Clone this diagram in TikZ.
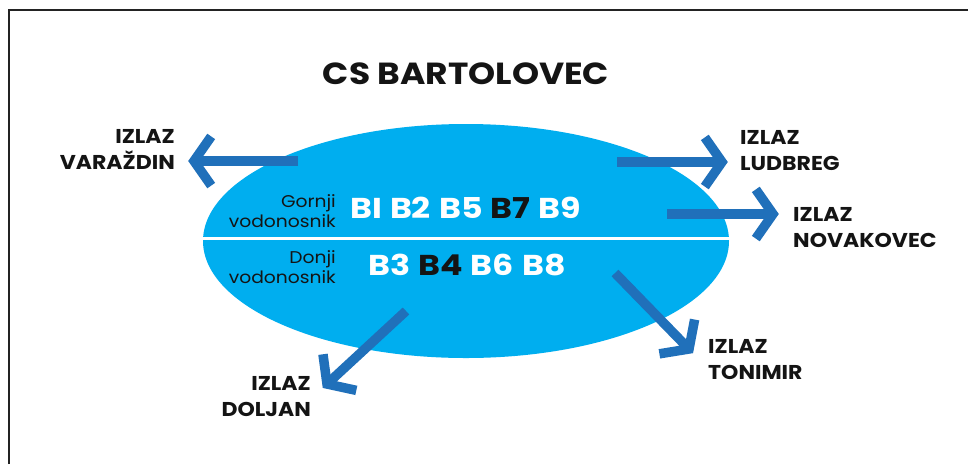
\documentclass[tikz,border=0pt]{standalone}
\usepackage{fontspec}
\setmainfont{Poppins}
\newfontfamily\titlefont[FakeStretch=1.13]{Poppins}
\newfontfamily\labelfont[FakeStretch=1.10]{Poppins}
\newfontfamily\wellfont[FakeStretch=1.16,WordSpace=1.15]{Poppins}
\usetikzlibrary{calc}
\definecolor{lake}{RGB}{0,174,239}
\definecolor{arrowblue}{RGB}{32,112,186}
\definecolor{framegray}{RGB}{35,35,35}
\tikzset{
  lbl/.style={inner sep=0pt, font=\labelfont\fontsize{20}{26}\selectfont\bfseries, text=black!92},
  layer/.style={inner sep=0pt, font=\labelfont\fontsize{17}{20}\selectfont, text=black!92, align=right},
  wells/.style={inner sep=0pt, font=\wellfont\fontsize{28.7}{30}\selectfont\bfseries, text=white},
  shaft/.style={arrowblue, line width=9.5pt},
  barb/.style={arrowblue, line width=9.5pt, line join=miter, miter limit=10}
}
\newcommand\izlazarrow[2]{%
  \draw[shaft] (#1) -- (#2);
  \draw[barb] ($(#2)!30pt!55:(#1)$) -- (#2) -- ($(#2)!30pt!-55:(#1)$);}
\begin{document}
\begin{tikzpicture}[x=1pt,y=-1pt]
\useasboundingbox (0,0) rectangle (968,464);
\fill[white] (0,0) rectangle (968,464);
\draw[framegray, line width=1.2pt] (9,464) -- (9,10) -- (968,10);

% title
\node[inner sep=0pt, anchor=base, font=\titlefont\fontsize{30.5}{30}\selectfont\bfseries, text=black!92] (title) at (466,84) {CS BARTOLOVEC};

% basin
\fill[lake] (466,241) ellipse [x radius=263, y radius=117];
\coordinate (basin) at (466,241);
\begin{scope}
  \clip (466,241) ellipse [x radius=263, y radius=117];
  \draw[white, line width=3pt] (150,238) -- (800,238);
\end{scope}

% layers (base anchor = last line)
\node[layer, anchor=base east] (upper) at (336,227) {Gornji\\vodonosnik};
\node[layer, anchor=base east] (lower) at (336,283) {Donji\\vodonosnik};
\node[wells, anchor=base west] (wellsup) at (350,218) {BI B2 B5 \textcolor{black!92}{B7} B9};
\node[wells, anchor=base west] (wellslow) at (368,275) {B3 \textcolor{black!92}{B4} B6 B8};

% outlet labels (base anchor = last line)
\node[lbl, anchor=base east, align=right] (varazdin) at (175,169) {IZLAZ\\VARAŽDIN};
\node[lbl, anchor=base west, align=left] (ludbreg) at (740,170) {IZLAZ\\LUDBREG};
\node[lbl, anchor=base west, align=left] (novakovec) at (793,247) {IZLAZ\\NOVAKOVEC};
\node[lbl, anchor=base west, align=left] (tonimir) at (708,379) {IZLAZ\\TONIMIR};
\node[lbl, anchor=base east, align=right] (doljan) at (311,416) {IZLAZ\\DOLJAN};

% arrows
\coordinate (sV) at (298,161); \coordinate (tV) at (194,161);
\coordinate (sL) at (617,162); \coordinate (tL) at (722,162);
\coordinate (sN) at (667,214); \coordinate (tN) at (773,214);
\coordinate (sT) at (615,273); \coordinate (tT) at (689,349);
\coordinate (sD) at (406,311); \coordinate (tD) at (327,384);
\izlazarrow{sV}{tV}
\izlazarrow{sL}{tL}
\izlazarrow{sN}{tN}
\izlazarrow{sT}{tT}
\izlazarrow{sD}{tD}
\end{tikzpicture}
\end{document}
